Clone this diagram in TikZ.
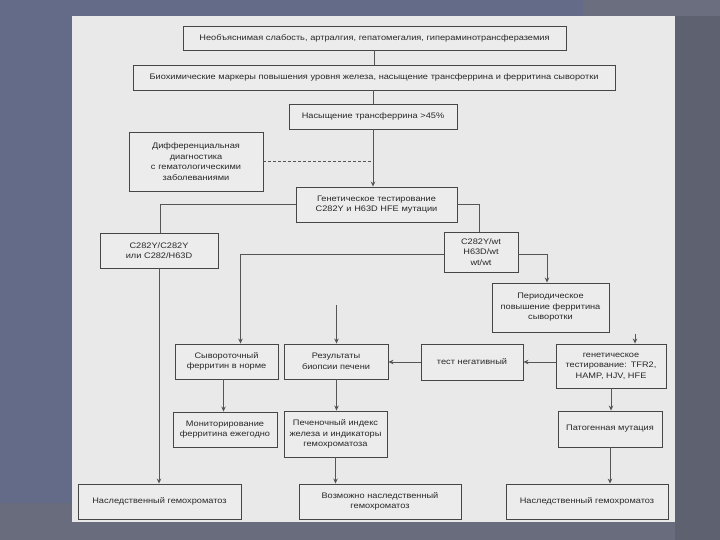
\documentclass[tikz,border=0pt]{standalone}
\usepackage{fontspec}
\setmainfont[FakeStretch=1.15]{Liberation Sans}
\usetikzlibrary{arrows.meta,calc}
\definecolor{bgblue}{RGB}{100,107,137}
\definecolor{bgdark}{RGB}{94,98,112}
\definecolor{bglight}{RGB}{106,110,126}
\definecolor{bgbottom}{RGB}{104,108,124}
\definecolor{paper}{RGB}{233,233,233}
\definecolor{boxfill}{RGB}{236,236,236}
\definecolor{boxline}{RGB}{70,70,70}
\definecolor{linec}{RGB}{85,85,85}
\definecolor{txt}{RGB}{40,40,40}
\tikzset{
  bx/.style 2 args={draw=boxline, fill=boxfill, line width=0.9pt, inner xsep=0pt, inner ysep=1pt,
    align=center, text width=#1, minimum height=#2, text=txt,
    font=\fontsize{8}{10.5}\selectfont},
  conn/.style={draw=linec, line width=0.8pt},
  arr/.style={conn, -{Stealth[length=5pt,width=4.5pt]}},
  dashconn/.style={conn, dashed, dash pattern=on 3pt off 2pt}
}
\begin{document}
\begin{tikzpicture}[x=1pt,y=-1pt]
\useasboundingbox (0,0) rectangle (720,540);
\fill[bgblue] (0,0) rectangle (720,540);
\fill[bglight] (583,0) rectangle (720,16);
\fill[bgbottom] (0,503) rectangle (720,540);
\fill[bgdark] (675,16) rectangle (720,540);
\fill[paper] (72,16) rectangle (675,522);

\node[bx={383pt}{24pt}] (b1) at (374.5,38) {Необъяснимая слабость, артралгия, гепатомегалия, гипераминотрансфераземия};
\node[bx={482pt}{25pt}] (b2) at (374,77.5) {Биохимические маркеры повышения уровня железа, насыщение трансферрина и ферритина сыворотки};
\node[bx={168pt}{25pt}] (b3) at (373,116.5) {Насыщение трансферрина >45\%};
\node[bx={134pt}{59pt}] (diff) at (196,161.5) {Дифференциальная\\диагностика\\с гематологическими\\заболеваниями};
\node[bx={161pt}{35pt}] (gen1) at (376.5,204.5) {Генетическое тестирование\\C282Y и H63D HFE мутации};
\node[bx={118pt}{35pt}] (hom) at (159,250.5) {C282Y/C282Y\\или C282/H63D};
\node[bx={74pt}{40pt}] (het) at (481,252) {C282Y/wt\\H63D/wt\\wt/wt};
\node[bx={117pt}{49pt}] (per) at (550.5,307.5) {Периодическое\\повышение ферритина\\сыворотки};
\node[bx={103pt}{35pt}] (ser) at (226.5,361.5) {Сывороточный\\ферритин в норме};
\node[bx={104pt}{35pt}] (bio) at (336,361.5) {Результаты\\биопсии печени};
\node[bx={102pt}{36pt}] (neg) at (472,362) {тест негативный};
\node[bx={110pt}{44pt}] (gen2) at (611,366) {генетическое\\тестирование: TFR2,\\HAMP, HJV, HFE};
\node[bx={104pt}{35pt}] (mon) at (225,429.5) {Мониторирование\\ферритина ежегодно};
\node[bx={103pt}{46pt}] (liv) at (335.5,434) {Печеночный индекс\\железа и индикаторы\\гемохроматоза};
\node[bx={104pt}{36pt}] (pat) at (610,429) {Патогенная мутация};
\node[bx={163pt}{35pt}] (hh1) at (159.5,501.5) {Наследственный гемохроматоз};
\node[bx={162pt}{35pt}] (hh2) at (380,501.5) {Возможно наследственный\\гемохроматоз};
\node[bx={162pt}{35pt}] (hh3) at (587,501.5) {Наследственный гемохроматоз};

\coordinate (bt) at (336.5,305);
\coordinate (gt) at (635,334);

\draw[conn] (b1.south) -- (b1.south |- b2.north);
\draw[conn] (b3.north |- b2.south) -- (b3.north);
\draw[arr] (b3.south) -- (b3.south |- gen1.north);
\draw[dashconn] (diff.east) -- (b3.south |- diff.east);
\draw[conn] (gen1.west) -| ([xshift=1pt]hom.north);
\draw[arr] (hom.south) -- (hom.south |- hh1.north);
\draw[conn] (gen1.east) -| ([xshift=-2pt]het.north);
\draw[arr] ([yshift=-2pt]het.west) -| ([xshift=14pt]ser.north);
\draw[arr] ([yshift=-2pt]het.east) -| ([xshift=-3.5pt]per.north);
\draw[arr] (bt) -- (bt |- bio.north);
\draw[arr] (gt) -- (gt |- gen2.north);
\draw[arr] (gen2.west |- neg.east) -- (neg.east);
\draw[arr] (neg.west) -- (neg.west -| bio.east);
\draw[arr] ([xshift=-3pt]ser.south) -- ([xshift=-3pt]ser.south |- mon.north);
\draw[arr] (bt |- bio.south) -- (bt |- liv.north);
\draw[arr] (gen2.south) -- (gen2.south |- pat.north);
\draw[arr] (liv.south) -- (liv.south |- hh2.north);
\draw[arr] (pat.south) -- (pat.south |- hh3.north);
\end{tikzpicture}
\end{document}
